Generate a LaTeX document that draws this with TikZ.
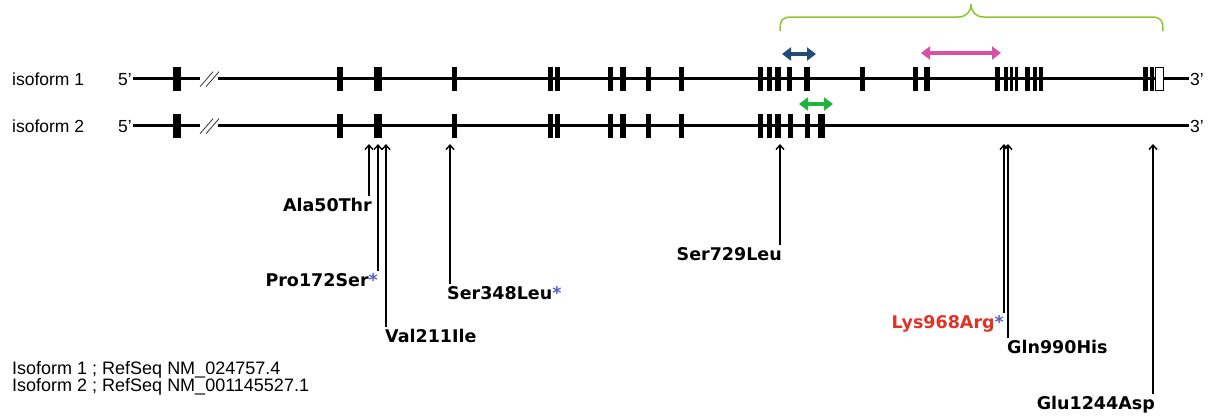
\documentclass[tikz,border=0pt]{standalone}
\usepackage{fontspec}
\setmainfont{Liberation Sans}
\newfontfamily\mutfont{DejaVu Sans}
\usetikzlibrary{
	arrows.meta,
	calc
}
\definecolor{BraceGreen}{RGB}{140,200,40}
\definecolor{DomainBlue}{RGB}{35,75,120}
\definecolor{DomainPink}{RGB}{215,80,165}
\definecolor{DomainGreen}{RGB}{30,180,60}
\definecolor{StarBlue}{RGB}{90,90,200}
\definecolor{VariantRed}{RGB}{225,50,40}

\tikzset{
	gene/.style={line width=3.5pt},
	exon/.style={fill=black},
	utr/.style={draw=black, fill=white, line width=1pt},
	breakmark/.style={line width=0.8pt, black!80},
	domainarrow/.style={
		line width=3.5pt,
		{Triangle[length=9pt,width=13pt]}-{Triangle[length=9pt,width=13pt]}
	},
	mutarrow/.style={line width=1.4pt, -{Straight Barb[length=4.5pt,width=8pt]}},
	mutlabel/.style={font=\mutfont\bfseries\fontsize{17.5}{20}\selectfont, inner sep=2pt},
	rowlabel/.style={font=\fontsize{17.5}{20}\selectfont, inner sep=0pt},
	reflabel/.style={font=\fontsize{18}{17}\selectfont, inner sep=0pt, align=left}
}

\begin{document}
\begin{tikzpicture}[x=1pt,y=-1pt]
				
				\useasboundingbox (0,0) rectangle (1213,416);
				
				\node[rowlabel, anchor=base west] (iso1) at (12,85.7) {isoform 1};
				\node[rowlabel, anchor=base west] (iso2) at (12,132.7) {isoform 2};
				\node[rowlabel, anchor=base east] (five1) at (132,85.7) {5’};
				\node[rowlabel, anchor=base east] (five2) at (132,132.7) {5’};
				\node[rowlabel, anchor=base west] (three1) at (1190,85.7) {3’};
				\node[rowlabel, anchor=base west] (three2) at (1190,132.7) {3’};
				
				\draw[gene] (133,78.7) -- (200,78.7);
				\draw[gene] (218,78.7) -- (1189,78.7);
				\draw[gene] (133,125.7) -- (200,125.7);
				\draw[gene] (218,125.7) -- (1189,125.7);
				\foreach \yy in {78.7,125.7}{
					\draw[breakmark] (200,\yy+8) -- (213,\yy-7);
					\draw[breakmark] (206,\yy+8) -- (219,\yy-7);
				}
				
				\foreach \xa/\xb in {173/181,337/343,374/382,452/457,548/553,555/560,
					608/613,620/626,646/651,679/684,758/763,767/772,775/781,787/792,
					804/810,860/865,913/918,924/930,995/1000,1004/1008,1010/1013,
					1015/1018,1025/1030,1033/1037,1039/1043,1143/1148,1150/1154}
				\fill[exon] (\xa,67) rectangle (\xb,91);
				\draw[utr] (1155,67.5) rectangle (1163,90.5);
				
				\foreach \xa/\xb in {173/181,337/343,374/382,452/457,548/553,555/560,
					608/613,620/626,646/651,679/684,758/763,767/772,775/781,788/793,
					805/810,818/825}
				\fill[exon] (\xa,114) rectangle (\xb,138);
				
				\draw[
				BraceGreen,
				line width=1.5pt
				]
				(780,31) .. controls (780,20) and (782,17) .. (792,17) -- (958,17)
				.. controls (966,17) and (971,12) .. (971,4)
				.. controls (971,12) and (976,17) .. (984,17) -- (1151,17)
				.. controls (1161,17) and (1163,20) .. (1163,31);
				
				\draw[domainarrow, DomainBlue] (782,54) -- (816,54);
				\draw[domainarrow, DomainPink] (921,53) -- (1001,53);
				\draw[domainarrow, DomainGreen] (799,104) -- (833,104);
				
				\node[mutlabel, anchor=base east] (ala) at (374,211) {Ala50Thr};
				\node[mutlabel, anchor=base east] (pro) at (380,286) {Pro172Ser\textcolor{StarBlue}{*}};
				\node[mutlabel, anchor=base west] (val) at (383,342) {Val211Ile};
				\node[mutlabel, anchor=base west] (ser348) at (445,299) {Ser348Leu\textcolor{StarBlue}{*}};
				\node[mutlabel, anchor=base east] (ser729) at (784,260) {Ser729Leu};
				\node[mutlabel, anchor=base east] (lys) at (1006,328) {\textcolor{VariantRed}{Lys968Arg}\textcolor{StarBlue}{*}};
				\node[mutlabel, anchor=base west] (gln) at (1005,353) {Gln990His};
				\node[mutlabel, anchor=base east] (glu) at (1157,409) {Glu1244Asp};
				
				\coordinate (ala-top) at (369,144);
				\coordinate (pro-top) at (378,144);
				\coordinate (val-top) at (386,144);
				\coordinate (ser348-top) at (450,144);
				\coordinate (ser729-top) at (780,144);
				\coordinate (lys-top) at (1004,144);
				\coordinate (gln-top) at (1008,144);
				\coordinate (glu-top) at (1153,144);
				\foreach \m in {ala,pro,val,ser348,ser729,lys,gln,glu}
				\draw[mutarrow] (\m-top |- \m.north) -- (\m-top);
				
				\node[reflabel, anchor=base west] (ref1) at (12,374) {Isoform 1 ; RefSeq NM\_024757.4};
				\node[reflabel, anchor=base west] (ref2) at (12,391) {Isoform 2 ; RefSeq NM\_001145527.1};
				
			\end{tikzpicture}
\end{document}
